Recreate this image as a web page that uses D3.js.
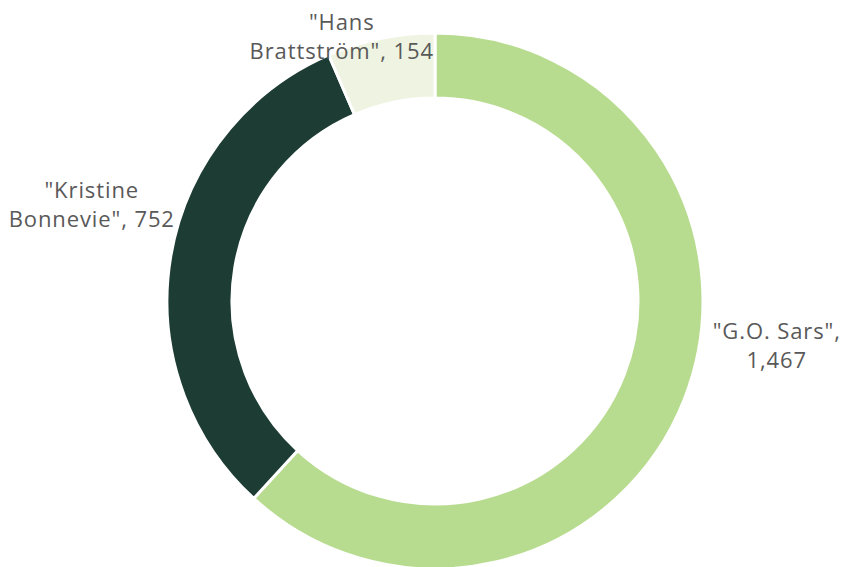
<!DOCTYPE html>
<html>
<head>
<meta charset="utf-8">
<script src="https://cdn.jsdelivr.net/npm/d3@7"></script>
<style>
  html, body { margin: 0; padding: 0; background: #ffffff; }
  svg { display: block; }
</style>
</head>
<body>
<svg id="chart" width="844" height="567"></svg>
<script>
const categories = ['"G.O. Sars"', '"Kristine Bonnevie"', '"Hans Brattström"'];
const values = [1467, 752, 154];
const colors = ["#b8dc8f", "#1d3d34", "#eef4e1"];
// label line breaks
const labelLines = [
  ['"G.O. Sars",', '1,467'],
  ['"Kristine', 'Bonnevie", 752'],
  ['"Hans', 'Brattström", 154']
];

const W = 844, H = 567;
const cx = 435, cy = 301;
const outerR = 268, innerR = 203;

const svg = d3.select("#chart");
const g = svg.append("g").attr("transform", `translate(${cx},${cy})`);

const data = categories.map((c, i) => ({ name: c, value: values[i], color: colors[i], lines: labelLines[i] }));

const pie = d3.pie().value(d => d.value).sort(null);
const arc = d3.arc().innerRadius(innerR).outerRadius(outerR);
const arcs = pie(data);

g.selectAll("path.slice")
  .data(arcs)
  .enter().append("path")
  .attr("class", "slice")
  .attr("d", arc)
  .attr("fill", d => d.data.color)
  .attr("stroke", "#ffffff")
  .attr("stroke-width", 3)
  .attr("stroke-linejoin", "miter");

// label placement: outer point at mid angle + offsets (layout only)
const labelOffsets = [[92, -53], [-79, -52], [-39, -2]];
const lineH = 29;
arcs.forEach((a, i) => {
  const mid = (a.startAngle + a.endAngle) / 2;
  const px = Math.sin(mid) * outerR + labelOffsets[i][0];
  const py = -Math.cos(mid) * outerR + labelOffsets[i][1];
  const t = g.append("text")
    .attr("text-anchor", "middle")
    .attr("font-family", "'Open Sans', sans-serif")
    .attr("font-size", 22)
    .attr("letter-spacing", "0.9px")
    .attr("fill", "#595959");
  const n = a.data.lines.length;
  a.data.lines.forEach((ln, k) => {
    t.append("tspan")
      .attr("x", px)
      .attr("y", py + (k - (n - 1) / 2) * lineH + 8)
      .text(ln);
  });
});
</script>
</body>
</html>
